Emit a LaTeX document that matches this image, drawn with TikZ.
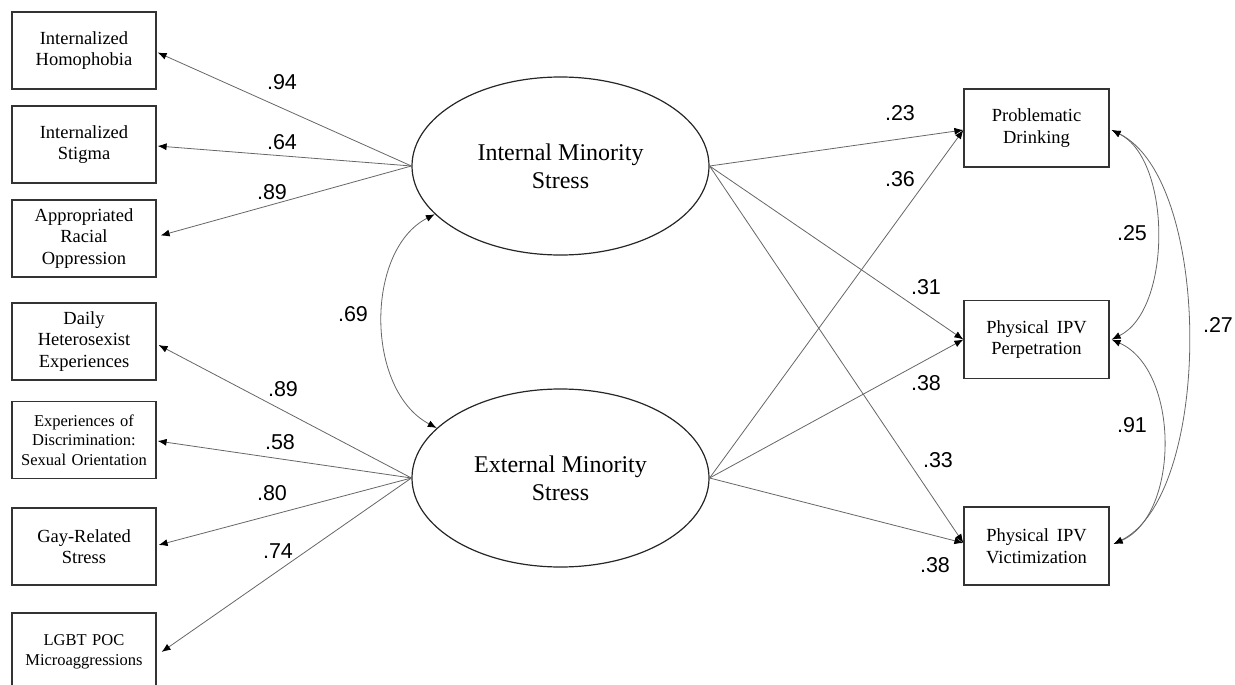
\documentclass[tikz,border=0pt]{standalone}
\usepackage{fontspec}
\setmainfont{Liberation Serif}
\setsansfont{Liberation Sans}
\usetikzlibrary{positioning,shapes.geometric,arrows.meta}

\begin{document}
\begin{tikzpicture}[
  x=1pt, y=-1pt,
  obs/.style={draw=black!80, line width=1.2pt, align=center, inner sep=0pt,
              minimum width=144pt, minimum height=77pt, text width=142pt,
              font=\fontsize{18.5}{21.5}\selectfont},
  obssmall/.style={obs, font=\fontsize{16.5}{19.5}\selectfont},
  lat/.style={ellipse, draw=black!85, line width=1.2pt, align=center, inner sep=0pt,
              minimum width=297pt, minimum height=178pt,
              font=\fontsize{24}{28}\selectfont},
  coef/.style={font=\sffamily\fontsize{21.5}{24}\selectfont, inner sep=0pt},
  seta/.style={-{Latex[length=9pt,width=7pt,color=black]}, draw=black!60, line width=0.8pt},
  cov/.style={{Latex[length=9pt,width=7pt,color=black]}-{Latex[length=9pt,width=7pt,color=black]},
              draw=black!60, line width=0.8pt},
]
\useasboundingbox (0,0) rectangle (1235,685);

% ---- Indicadores internos -------------------------------------------------
\node[obs] (hom)  at (84,50.5)  {Internalized\\Homophobia};
\node[obs] (stig) at (84,144.5) {Internalized\\Stigma};
\node[obs] (aro)  at (84,238.5) {Appropriated\\Racial\\Oppression};

% ---- Indicadores externos -------------------------------------------------
\node[obs] (dhe)  at (84,341.5) {Daily\\Heterosexist\\Experiences};
\node[obssmall] (eds) at (84,440) {Experiences of\\Discrimination:\\Sexual Orientation};
\node[obs] (grs)  at (84,546.5) {Gay-Related\\Stress};
\node[obssmall, minimum height=78pt] (poc) at (84,652) {LGBT POC\\Microaggressions};

% ---- Latentes ---------------------------------------------------------------
\node[lat] (int) at (560.5,166) {Internal Minority\\Stress};
\node[lat] (ext) at (560.5,478) {External Minority\\Stress};

% ---- Desfechos --------------------------------------------------------------
\node[obs, minimum width=145pt, minimum height=78pt] (pd) at (1036.5,128)   {Problematic\\Drinking};
\node[obs, minimum width=145pt, minimum height=78pt] (pp) at (1036.5,339.5) {Physical\hspace{8pt}IPV\\Perpetration};
\node[obs, minimum width=145pt, minimum height=78pt] (pv) at (1036.5,546)   {Physical\hspace{8pt}IPV\\Victimization};

% ---- Cargas -----------------------------------------------------------------
\draw[seta] (int.west) -- ([xshift=1pt,yshift=-2pt]hom.east);
\draw[seta] (int.west) -- ([xshift=1pt,yshift=-1.5pt]stig.east);
\draw[seta] (int.west) -- ([xshift=4pt,yshift=3pt]aro.east);
\draw[seta] (ext.west) -- ([xshift=2pt,yshift=-3.5pt]dhe.east);
\draw[seta] (ext.west) -- ([xshift=1pt,yshift=-1pt]eds.east);
\draw[seta] (ext.west) -- ([xshift=2pt,yshift=1.5pt]grs.east);
\draw[seta] (ext.west) -- ([xshift=5pt]poc.east);

\node[coef] (l94) at (282,82)  {.94};
\node[coef] (l64) at (282,142) {.64};
\node[coef] (l89) at (272,192) {.89};
\node[coef] (lx89) at (283,389) {.89};
\node[coef] (l58) at (280,442) {.58};
\node[coef] (l80) at (272,493) {.80};
\node[coef] (l74) at (278,551) {.74};

% correlacao entre latentes
\draw[cov] (int.201) .. controls (365,250) and (365,390) .. (ext.158);
\node[coef] (l69) at (353,314) {.69};

% ---- Caminhos estruturais ---------------------------------------------------
\draw[seta] (int.east) -- ([yshift=-2pt]pd.west);
\draw[seta] (int.east) -- (pp.west);
\draw[seta] (int.east) -- ([yshift=3pt]pv.west);
\draw[seta] (ext.east) -- ([yshift=-2pt]pd.west);
\draw[seta] (ext.east) -- (pp.west);
\draw[seta] (ext.east) -- ([yshift=3pt]pv.west);

\node[coef] (l23) at (900,113) {.23};
\node[coef] (l36) at (900,179) {.36};
\node[coef] (l31) at (926,287) {.31};
\node[coef] (l38a) at (926,383) {.38};
\node[coef] (l33) at (938,460) {.33};
\node[coef] (l38b) at (935,565) {.38};

% ---- Correlacoes residuais --------------------------------------------------
\draw[cov] ([xshift=2pt,yshift=-2pt]pd.east) .. controls (1172,160) and (1172,310) .. ([xshift=2pt]pp.east);
\draw[cov] ([xshift=2pt]pp.east) .. controls (1180,370) and (1180,515) .. ([xshift=4pt,yshift=2pt]pv.east);
\draw[cov] ([xshift=2pt,yshift=-2pt]pd.east) .. controls (1213,180) and (1213,495) .. ([xshift=4pt,yshift=2pt]pv.east);

\node[coef] (l25) at (1132,233) {.25};
\node[coef] (l91) at (1132,425) {.91};
\node[coef] (l27) at (1218,325) {.27};

\end{tikzpicture}
\end{document}
